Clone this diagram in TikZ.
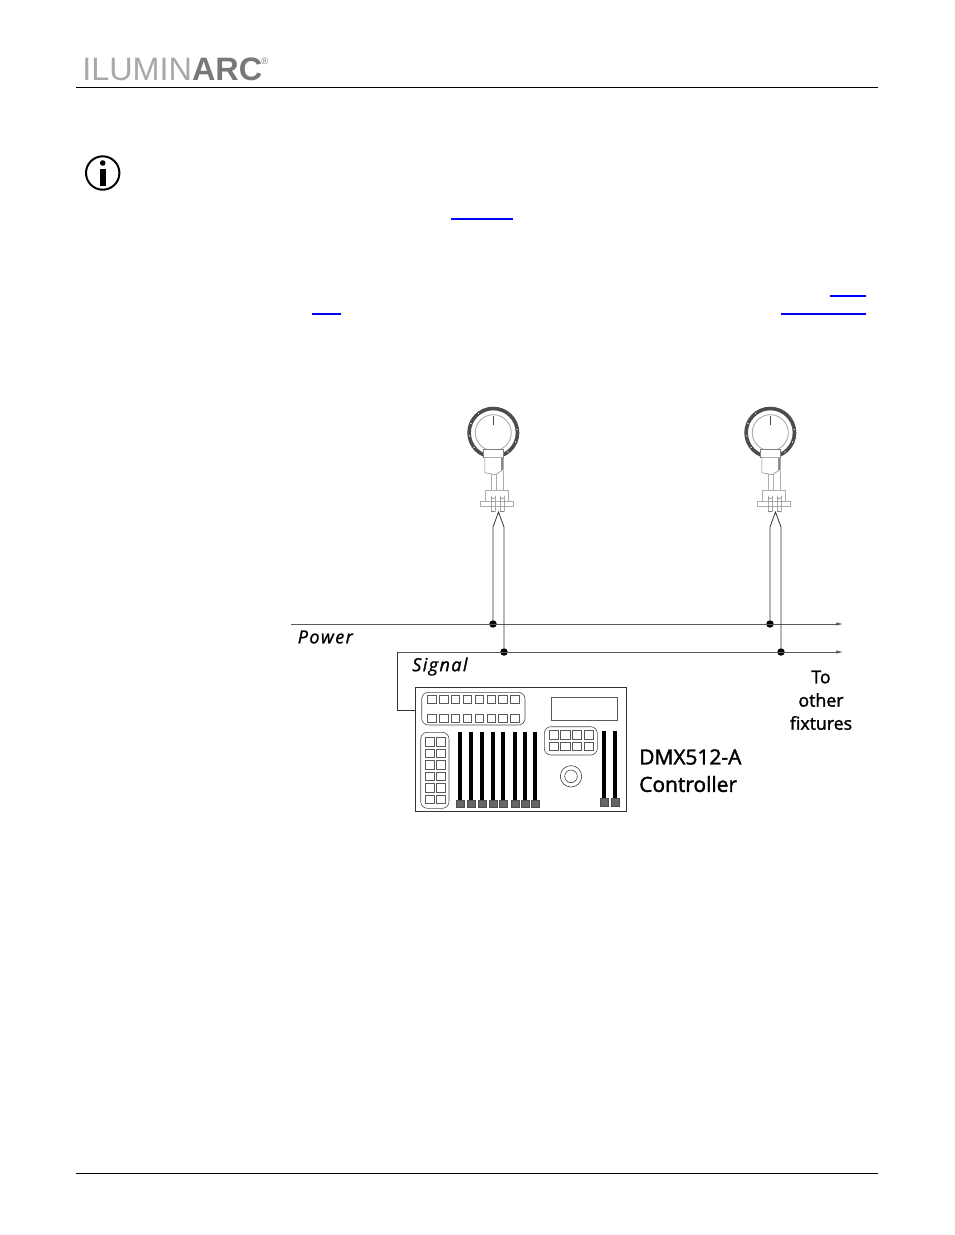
\documentclass[tikz,border=0pt]{standalone}
\usepackage{fontspec}
\setsansfont{Open Sans}
\usepackage{tikz}
\usetikzlibrary{arrows.meta}
\usetikzlibrary{positioning}
\definecolor{mgray}{rgb}{0.35, 0.35, 0.35}
\definecolor{mlight}{rgb}{0.68, 0.68, 0.68}
\definecolor{mlogo}{rgb}{0.66, 0.66, 0.66}
\definecolor{mlogob}{rgb}{0.47, 0.47, 0.47}
\definecolor{mcap}{rgb}{0.4, 0.4, 0.4}
\tikzset{circ/.style = {fill, circle, inner sep = 0, minimum size = 5.6}}
\tikzset{bus/.style = {draw=mgray, line width=0.6pt}}
\tikzset{feed/.style = {draw=black!80, line width=0.6pt}}
\tikzset{key/.style = {draw=black!65, line width=0.4pt}}
\tikzset{panel/.style = {draw=black!70, line width=0.45pt, rounded corners=5}}
\tikzset{rule/.style = {draw=black, line width=0.7pt}}
\tikzset{link/.style = {draw=blue, line width=0.8pt}}
\tikzset{busname/.style = {font=\sffamily\itshape\fontsize{13.5}{13.5}\selectfont\addfontfeature{FakeBold=1.2}, inner sep=0, anchor=west}}
\tikzset{ctrlname/.style = {font=\sffamily\fontsize{15.7}{15.7}\selectfont\addfontfeature{FakeBold=1.8}, inner sep=0, anchor=west}}
\tikzset{tolabel/.style = {font=\sffamily\fontsize{13.3}{13.3}\selectfont\addfontfeature{FakeBold=1.6}, inner sep=0}}
\tikzset{fixture/.pic = {
      \draw [mgray!85!black, line width=2.7] circle [radius=24.2];
      \draw [mlight, line width=0.7] circle [radius=18];
      \foreach \a in {-30, 0, 30, 60, 90, 120, 150, 180, 210}
        \fill [white, draw=black!80, line width=0.4] (\a+22.5:24.2) circle [radius=1.4];
      \draw [black!70, line width=0.9] (0, -16.5) -- (0, -8);
      \draw [fill=white, draw=black!50, line width=0.4] (-10, 17) -- (10, 17) -- (10, 25) -- (-10, 25) -- cycle;
      \draw [fill=white, draw=black!50, line width=0.4] (-8.5, 25) -- (-8.5, 40) -- (2, 42) -- (10, 37) -- (10, 25);
      \fill [black!45] (8, 25) rectangle (10, 37);
      \draw [mlight, line width=0.4] (-1.7, 41) -- (-1.7, 58) (3, 41) -- (3, 58) (10, 38) -- (10, 58);
      \draw [mlight, line width=0.4] (-8.5, 69) -- (-8.5, 58) -- (15, 58) -- (15, 69);
      \draw [mlight, line width=0.4] (-13.5, 69) rectangle (20, 74);
      \draw [black!50, line width=0.35] (-2, 79) -- (-2, 64) arc (180:0:2) -- (2, 79);
      \draw [black!50, line width=0.35] (7, 79) -- (7, 64) arc (180:0:2) -- (11, 79);
      \draw [black!50, line width=0.35] (-2, 79) -- (2, 79) (7, 79) -- (11, 79);
    }}
\begin{document}
\begin{tikzpicture}[x=0.75pt, y=-0.75pt]
      \useasboundingbox (0, 0) rectangle (954, 1235);

      \node [inner sep=0, anchor=base west, text=mlogo, font=\fontspec{Liberation Sans}\fontsize{24.3}{24.3}\selectfont] (logo) at (82, 80) {ILUMIN\textcolor{mlogob}{\textbf{ARC}}};
      \node [inner sep=0, anchor=north west, text=mlogob, font=\fontspec{Liberation Sans}\fontsize{7}{7}\selectfont] (reg) at (261, 58) {®};
      \draw [rule] (76, 87) -- (878, 87);
      \draw [rule] (76, 1173) -- (878, 1173);

      \draw [black, line width=1.5] (102.7, 173) circle [radius=16.7];
      \fill [black] (102.7, 163) circle [radius=2.8];
      \fill [black] (100, 169) rectangle (105.5, 186);

      \draw [link] (451, 219) -- (513, 219);
      \draw [link] (830, 296) -- (866, 296);
      \draw [link] (312, 314) -- (341, 314);
      \draw [link] (781, 314) -- (866, 314);

      \pic at (493.3, 432.7) {fixture};
      \pic at (770.3, 432.7) {fixture};

      \coordinate (powera) at (291, 624);
      \coordinate (powerb) at (843, 624);
      \coordinate (signalb) at (843, 652);
      \coordinate (signala) at (397, 652);
      \coordinate (tipa) at (498.5, 512);
      \coordinate (tipb) at (775.5, 512);

      \node [circ] (pdota) at (493, 624) {};
      \node [circ] (pdotb) at (770, 624) {};
      \node [circ] (sdota) at (504, 652) {};
      \node [circ] (sdotb) at (781, 652) {};

      \draw [bus, -{Latex[length=5, width=2.6]}] (powera) -- (powerb);
      \draw [bus, -{Latex[length=5, width=2.6]}] (signala) -- (signalb);

      \draw [feed] (pdota) -- (493, 527) -- (tipa) -- (504, 527) -- (sdota);
      \draw [feed] (pdotb) -- (770, 527) -- (tipb) -- (781, 527) -- (sdotb);

      \node [busname] (power) at (297.5, 637) {\addfontfeature{LetterSpace=8}Power};
      \node [busname] (signal) at (412, 666.5) {\addfontfeature{LetterSpace=8}Signal};

      \draw [draw=black!80, line width=0.7pt] (415, 687) rectangle (626.5, 811.5);
      \coordinate (ctrlin) at (415, 710);
      \draw [feed] (signala) -- (397, 710) -- (ctrlin);

      \draw [panel] (421.7, 692.3) rectangle (525, 725);
      \foreach \i in {0, ..., 7} {
        \draw [key] (427.3+\i*11.9, 695.7) rectangle +(8.6, 8);
        \draw [key] (427.3+\i*11.9, 714) rectangle +(8.6, 8);
      }
      \draw [key] (551.7, 697.3) rectangle (617.3, 720.7);

      \draw [panel] (420.7, 732.3) rectangle (449, 808.3);
      \foreach \j in {0, ..., 5} {
        \draw [key] (425, 737.3+\j*11.5) rectangle +(9.2, 8.5);
        \draw [key] (436, 737.3+\j*11.5) rectangle +(9.2, 8.5);
      }

      \foreach \x in {460, 471.3, 482.3, 492.7, 503.3, 514.7, 525.3, 535.3} {
        \fill [black] (\x-2, 732.3) rectangle (\x+2, 800);
        \draw [fill=mcap, draw=black!70, line width=0.3] (\x-4, 800) rectangle (\x+4, 807.3);
      }

      \draw [panel] (544.3, 726.7) rectangle (597.3, 755);
      \foreach \x in {549.3, 560.7, 572.3, 584.3} {
        \draw [key] (\x, 730) rectangle +(9.4, 9);
        \draw [key] (\x, 742.3) rectangle +(9.4, 8.4);
      }

      \draw [black!75, line width=0.45] (571, 776.3) circle [radius=10.7];
      \draw [black!75, line width=0.45] (571, 776.3) circle [radius=6.3];

      \foreach \x in {604.3, 615} {
        \fill [black] (\x-2, 730.7) rectangle (\x+2, 798.3);
        \draw [fill=mcap, draw=black!70, line width=0.3] (\x-4, 798.3) rectangle (\x+4, 806);
      }

      \node [ctrlname] (ctrla) at (639, 757) {DMX512-A};
      \node [ctrlname] (ctrlb) at (639, 784) {Controller};

      \node [tolabel] (toa) at (821, 677) {To};
      \node [tolabel] (tob) at (821, 700) {other};
      \node [tolabel] (toc) at (821, 723) {fixtures};
    \end{tikzpicture}
\end{document}
